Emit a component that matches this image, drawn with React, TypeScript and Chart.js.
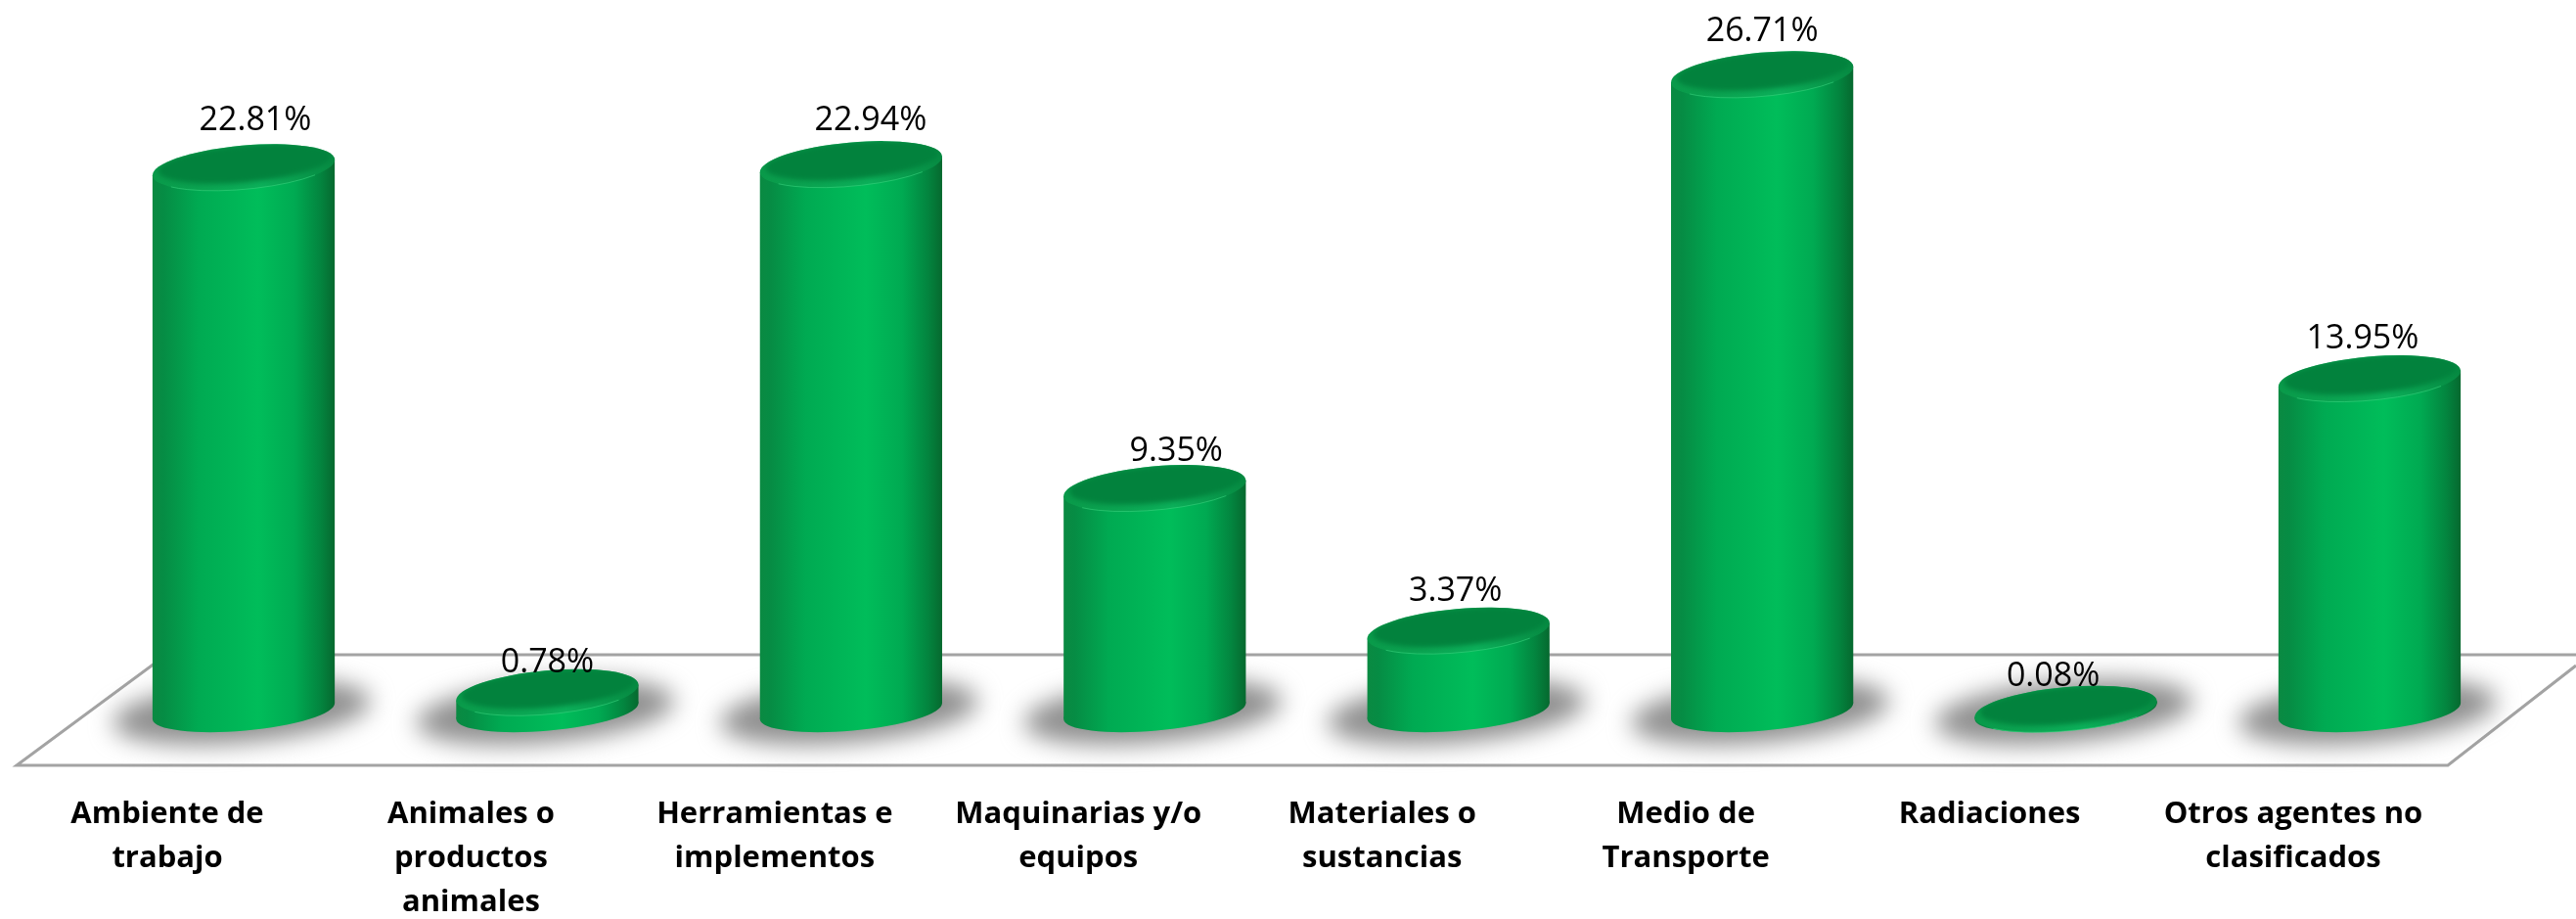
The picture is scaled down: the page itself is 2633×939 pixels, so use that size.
import React, { useEffect, useRef } from "react";
import { Chart, registerables } from "chart.js";

Chart.register(...registerables);

const categories: string[][] = [
  ["Ambiente de", "trabajo"],
  ["Animales o", "productos", "animales"],
  ["Herramientas e", "implementos"],
  ["Maquinarias y/o", "equipos"],
  ["Materiales o", "sustancias"],
  ["Medio de", "Transporte"],
  ["Radiaciones"],
  ["Otros agentes no", "clasificados"],
];
const values: number[] = [22.81, 0.78, 22.94, 9.35, 3.37, 26.71, 0.08, 13.95];
const labelNudgeX: number[] = [12, 0, 20, 22, -3, 0, -13, -7];
const labelLift: number[] = [38, 21, 35, 28, 30, 34, 24, 31];

const TILT = (-5.16 * Math.PI) / 180;
const LABEL_FONT = '34px "Open Sans", sans-serif';

function disc(ctx: CanvasRenderingContext2D, cx: number, cy: number, a: number, b: number) {
  ctx.beginPath();
  ctx.ellipse(cx, cy, a, b, TILT, 0, Math.PI * 2);
  ctx.closePath();
}

const floorPlugin = {
  id: "floor",
  beforeDatasetsDraw(chart: any) {
    const { ctx } = chart;
    ctx.save();
    ctx.strokeStyle = "#a3a3a3";
    ctx.lineWidth = 3;
    ctx.lineJoin = "miter";
    ctx.beginPath();
    ctx.moveTo(2633, 669);
    ctx.lineTo(170, 669);
    ctx.lineTo(17, 782);
    ctx.lineTo(2502, 782);
    ctx.lineTo(2633, 680);
    ctx.stroke();
    ctx.restore();
    // soft contact shadows under every column
    chart.getDatasetMeta(0).data.forEach((bar: any) => {
      ctx.save();
      ctx.filter = "blur(12px)";
      ctx.fillStyle = "#8f8f8f";
      disc(ctx, bar.x - 2, bar.base + 1, bar.width * 0.71, bar.width * 0.17);
      ctx.fill();
      ctx.restore();
    });
  },
};

const cylinderPlugin = {
  id: "cylinder",
  afterDatasetsDraw(chart: any) {
    const { ctx } = chart;
    const meta = chart.getDatasetMeta(0);
    meta.data.forEach((bar: any, i: number) => {
      const w = bar.width;
      const cx = bar.x;
      const top = bar.y;
      const base = bar.base;
      const a = w * 0.502;
      const b = w * 0.12;
      const baseB = w * 0.108;
      const skew = w * 0.043;
      const left = cx - w / 2;
      const right = cx + w / 2;

      const side = ctx.createLinearGradient(left, 0, right, 0);
      side.addColorStop(0, "#0a8a42");
      side.addColorStop(0.06, "#068c44");
      side.addColorStop(0.25, "#00aa52");
      side.addColorStop(0.58, "#00bd5a");
      side.addColorStop(0.78, "#00aa52");
      side.addColorStop(0.92, "#03853f");
      side.addColorStop(1, "#06692f");

      ctx.save();
      ctx.fillStyle = side;
      disc(ctx, cx, base, a, baseB);
      ctx.fill();
      ctx.beginPath();
      ctx.moveTo(left, top + skew);
      ctx.lineTo(left, base + skew);
      ctx.lineTo(right, base - skew);
      ctx.lineTo(right, top - skew);
      ctx.closePath();
      ctx.fill();

      // top face with bevelled rim
      const rim = ctx.createLinearGradient(left, 0, right, 0);
      rim.addColorStop(0, "#0a9a4a");
      rim.addColorStop(0.6, "#0cb05a");
      rim.addColorStop(1, "#078a42");
      ctx.fillStyle = rim;
      disc(ctx, cx, top, a, b);
      ctx.fill();

      ctx.save();
      disc(ctx, cx, top, a, b);
      ctx.clip();
      ctx.filter = "blur(2.5px)";
      ctx.fillStyle = "#02823d";
      disc(ctx, cx + 1, top - 4, a * 0.95, b * 0.86);
      ctx.fill();
      ctx.restore();

      ctx.strokeStyle = "rgba(60,215,130,0.55)";
      ctx.lineWidth = 1;
      ctx.beginPath();
      ctx.ellipse(cx, top, a, b, TILT, Math.PI * 0.22, Math.PI * 0.8);
      ctx.stroke();
      ctx.restore();

      // value label
      ctx.save();
      ctx.font = LABEL_FONT;
      ctx.fillStyle = "#000000";
      ctx.textAlign = "center";
      ctx.textBaseline = "alphabetic";
      ctx.fillText(values[i].toFixed(2) + "%", cx + labelNudgeX[i], top - labelLift[i]);
      ctx.restore();
    });
  },
};

export default function App() {
  const ref = useRef<HTMLCanvasElement | null>(null);
  useEffect(() => {
    if (!ref.current) return;
    const chart = new Chart(ref.current, {
      type: "bar",
      data: {
        labels: categories as any,
        datasets: [
          {
            data: values,
            backgroundColor: "rgba(0,0,0,0)",
            borderWidth: 0,
            barPercentage: 0.6,
            categoryPercentage: 1,
          },
        ],
      },
      options: {
        responsive: false,
        animation: false,
        layout: { padding: { left: 93.8, right: 55.8, top: 44.7, bottom: 0 } },
        plugins: { legend: { display: false }, tooltip: { enabled: false } },
        scales: {
          y: { display: false, min: 0, max: 28 },
          x: {
            grid: { display: false, drawTicks: false },
            border: { display: false },
            afterFit: (s: any) => {
              s.height = 212.5;
              s.paddingLeft = 0;
              s.paddingRight = 0;
            },
            ticks: {
              color: "#000000",
              padding: 83,
              labelOffset: -78,
              maxRotation: 0,
              autoSkip: false,
              font: { family: '"Open Sans", sans-serif', size: 31, weight: "bold", lineHeight: 1.45 },
            },
          },
        },
      },
      plugins: [floorPlugin, cylinderPlugin],
    } as any);
    return () => chart.destroy();
  }, []);
  return (
    <div style={{ position: "absolute", left: 0, top: 0, width: 2633, height: 939, background: "#fff" }}>
      <canvas ref={ref} width={2633} height={939} style={{ display: "block" }} />
    </div>
  );
}
